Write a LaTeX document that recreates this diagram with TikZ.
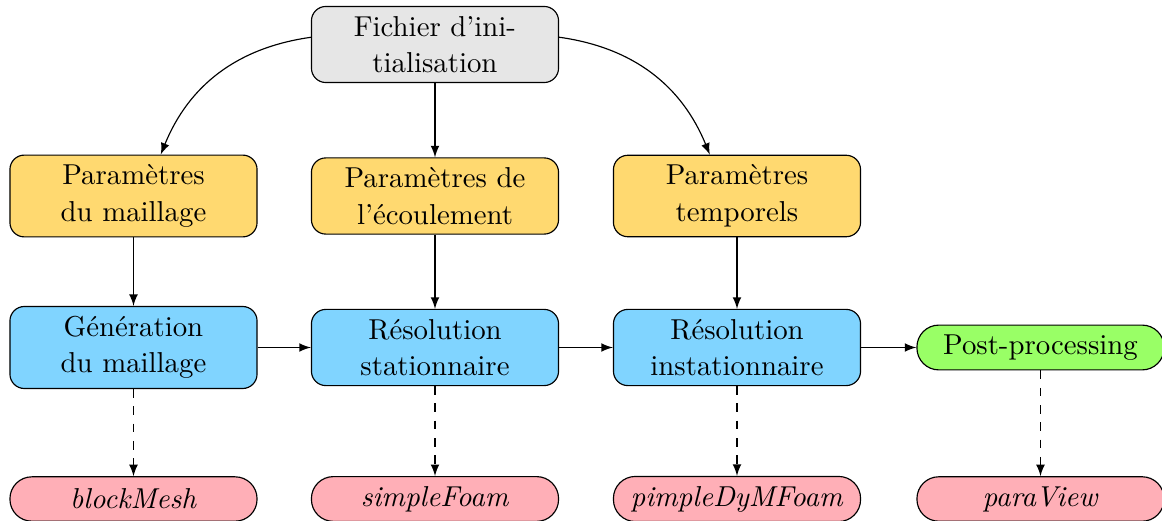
\documentclass[tikz,border=0pt]{standalone}
\providecommand{\Init}{E6E6E6}
\providecommand{\Param}{FFD970}
\providecommand{\Solve}{80D4FF}
\providecommand{\Post}{99FF66}
\providecommand{\Tool}{FFAFB7}
\newcommand{\Unit}{0.3472pt}
\newcommand{\BoxW}{85.8pt}
\definecolor{init}{HTML}{\Init}
\definecolor{param}{HTML}{\Param}
\definecolor{solve}{HTML}{\Solve}
\definecolor{post}{HTML}{\Post}
\definecolor{tool}{HTML}{\Tool}

\begin{document}
\begin{tikzpicture}[x=\Unit,y=\Unit,
  block/.style={rectangle,rounded corners=5pt,draw=black,text width=\BoxW-6.67pt,
    align=center,font=\fontsize{10}{12.7}\selectfont},
  pill/.style={rectangle,rounded corners=7.6pt,draw=black,minimum width=\BoxW,minimum height=15.4pt},
  link/.style={-latex}]

  \useasboundingbox (0,0) rectangle (1162,520);

  % ---- input file ---------------------------------------------------------
  \node[block,fill=init] (init) at (435,475.5) {Fichier d'ini-\\tialisation};

  % ---- parameters ---------------------------------------------------------
  \node[block,fill=param] (mesh) at (133.5,324) {Paramètres\\du maillage};
  \node[block,fill=param] (flow) at (435,324)   {Paramètres de\\l'écoulement};
  \node[block,fill=param] (time) at (737,324)   {Paramètres\\temporels};

  % ---- solving steps ------------------------------------------------------
  \node[block,fill=solve] (gen)      at (133.5,172.5) {Génération\\du maillage};
  \node[block,fill=solve] (steady)   at (435,172.5)   {Résolution\\stationnaire};
  \node[block,fill=solve] (unsteady) at (737,172.5)   {Résolution\\instationnaire};
  \node[pill,fill=post]   (postproc) at (1040.5,172.5) {Post-processing};

  % ---- tools, one under each step -----------------------------------------
  \node[pill,fill=tool] (blockmesh)  at (133.5,21)  {\textit{blockMesh}};
  \node[pill,fill=tool] (simplefoam) at (435,21)    {\textit{simpleFoam}};
  \node[pill,fill=tool] (pimple)     at (737,21)    {\textit{pimpleDyMFoam}};
  \node[pill,fill=tool] (paraview)   at (1040.5,21) {\textit{paraView}};

  % ---- connectors ---------------------------------------------------------
  \draw[link] (init) to[bend right] (mesh);
  \draw[link] (init) -- (flow);
  \draw[link] (init) to[bend left] (time);
  \foreach \a/\b in {mesh/gen,flow/steady,time/unsteady,
                     gen/steady,steady/unsteady,unsteady/postproc} {
    \draw[link] (\a) -- (\b);
  }
  % The tool that does each step.
  \foreach \a/\b in {gen/blockmesh,steady/simplefoam,unsteady/pimple,postproc/paraview} {
    \draw[link,dashed] (\a) -- (\b);
  }

\end{tikzpicture}
\end{document}
